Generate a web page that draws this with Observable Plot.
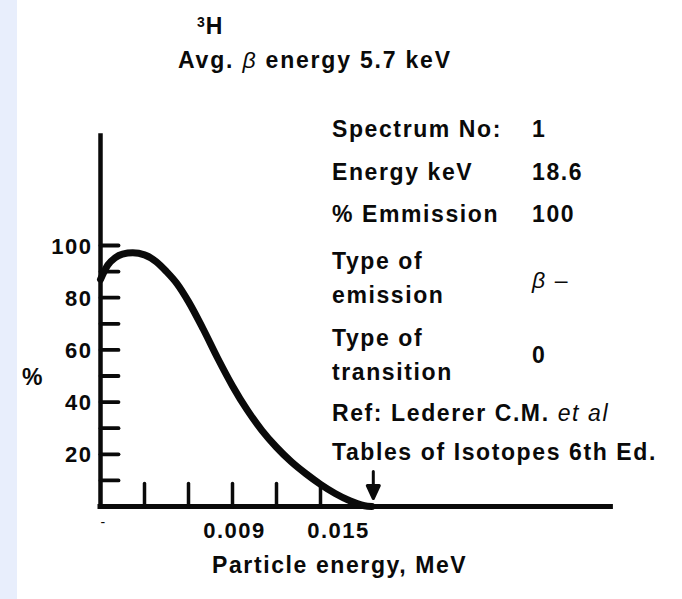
<!DOCTYPE html>
<html><head><meta charset="utf-8">
<script src="https://cdn.jsdelivr.net/npm/d3@7"></script>
<script src="https://cdn.jsdelivr.net/npm/@observablehq/plot@0.6"></script>
<style>
html,body{margin:0;padding:0;}
body{width:682px;height:599px;overflow:hidden;background:linear-gradient(to right,#e8eefc 0,#e8eefc 17px,#fff 17px);}
#wrap{position:relative;width:682px;height:599px;}
#wrap svg{display:block;position:absolute;left:0;top:0;background:transparent;}
.t{position:absolute;font-family:"Liberation Sans",Arial,sans-serif;font-weight:bold;font-size:23px;letter-spacing:1.6px;color:#0a0a0a;line-height:34px;white-space:pre;}
.t i{font-weight:normal;}
</style></head><body><div id="wrap"></div>
<script>
// ---- data ----
const energyMeV = [0, 0.0005, 0.0010, 0.0015, 0.0022, 0.0030, 0.0038, 0.0045, 0.0052, 0.0060, 0.0070, 0.0080, 0.0090, 0.0100, 0.0110, 0.0120, 0.0130, 0.0140, 0.0150, 0.0160, 0.0170, 0.0175, 0.0180, 0.0185];
const percent   = [87,  92.5,   95.3,   96.7,   97.2,   96.4,   93.8,   90,     85.5,   78.5,   68,     56.7,   46.2,   37,     29.2,   22.7,   17.2,   12.6,   8.5,    5,      2.2,    1.1,    0.3,    0];
const yTickValues = [10, 20, 30, 40, 50, 60, 70, 80, 90, 100];
const yLabelValues = [20, 40, 60, 80, 100];
const xTickValues = [0.003, 0.006, 0.009, 0.012, 0.015];
const xLabelValues = [0.009, 0.015];
const endpointMeV = 0.0186;
const axisTopPercent = 142;
const axisEndMeV = 0.0348;
const infoLabels = ["Spectrum No:", "Energy keV", "% Emmission", "Type of\nemission", "Type of\ntransition"];
const infoValues = ["1", "18.6", "100", "β –", "0"];
const titleNuclide = "H";
const titleMass = "3";
const titleText = ["Avg.", "β", "energy 5.7 keV"];
const refLine1 = ["Ref: Lederer C.M.", "et al"];
const refLine2 = "Tables of Isotopes 6th Ed.";
const xTitle = "Particle energy, MeV";
const yTitle = "%";

// ---- layout (pixels) ----
const ink = "#0a0a0a";
const font = "Liberation Sans, Arial, sans-serif";
const rowCenters = [129, 172, 214, 278, 355];
const valueCenters = [129, 172, 214, 280, 355];
const xLabelDx = [2, 18];

const lineShape = {draw(ctx, l) { ctx.moveTo(0, 0); ctx.lineTo(0, -l); }};
const arrowShape = {draw(ctx, l) {
  ctx.moveTo(0, 0); ctx.lineTo(0, -l + 10);
  ctx.moveTo(-6, -l + 13); ctx.lineTo(0, -l); ctx.lineTo(6, -l + 13); ctx.closePath();
}};

const pts = energyMeV.map((e, i) => ({e, p: percent[i]}));
const txt = {fontFamily: font, fontSize: 22, fontWeight: "bold", fill: ink};

const chart = Plot.plot({
  width: 682, height: 599,
  marginTop: 0, marginRight: 0, marginBottom: 0, marginLeft: 0,
  style: {background: "transparent", letterSpacing: "1.5px", fontFamily: font, color: ink},
  x: {type: "linear", domain: [0, 0.036], range: [100, 628], axis: null},
  y: {type: "linear", domain: [0, 100], range: [506, 245], axis: null},
  marks: [
    Plot.ruleX([0], {y1: 0, y2: axisTopPercent, stroke: ink, strokeWidth: 4.5, strokeLinecap: "square"}),
    Plot.ruleY([0], {x1: 0, x2: axisEndMeV, stroke: ink, strokeWidth: 5, strokeLinecap: "square"}),
    Plot.vector(yTickValues, {x: 0, y: d => d, rotate: 90, length: 18, anchor: "start", shape: lineShape, stroke: ink, strokeWidth: 3.8}),
    Plot.vector(xTickValues, {x: d => d, y: 0, rotate: 0, length: 23, anchor: "start", shape: lineShape, stroke: ink, strokeWidth: 3.5}),
    Plot.text(yLabelValues, {x: 0, y: d => d, text: d => String(d), textAnchor: "end", dx: -8, dy: 1, ...txt}),
    ...xLabelValues.map((v, i) => Plot.text([v], {x: d => d, y: 0, text: d => d.toFixed(3), dx: xLabelDx[i], dy: 24, ...txt})),
    Plot.text([0], {x: d => d, y: 0, text: () => "-", dx: 3, dy: 16, fontSize: 14, fill: ink}),
    Plot.line(pts, {x: "e", y: "p", curve: "monotone-x", stroke: ink, strokeWidth: 7, strokeLinecap: "round", strokeLinejoin: "round"}),
    Plot.vector([endpointMeV], {x: d => d, y: 0, rotate: 180, length: 27, anchor: "end", dy: -8, shape: arrowShape, stroke: ink, fill: ink, strokeWidth: 3})
  ]
});
const wrap = document.getElementById("wrap");
wrap.appendChild(chart);

function addText(html, left, centerY, extra) {
  const d = document.createElement("div");
  d.className = "t";
  d.innerHTML = html;
  d.style.left = left + "px";
  d.style.top = (centerY - 17) + "px";
  if (extra) Object.assign(d.style, extra);
  wrap.appendChild(d);
  return d;
}
const esc = s => s.replace(/&/g, "&amp;").replace(/</g, "&lt;");

addText(`<span style="font-size:14px;vertical-align:7px;letter-spacing:1px">${titleMass}</span>${titleNuclide}`, 197, 22);
addText(`${titleText[0]} <i>${titleText[1]}</i> ${titleText[2]}`, 178, 60, {letterSpacing: "1.8px"});
infoLabels.forEach((s, i) => addText(esc(s), 332, rowCenters[i], s.includes("\n") ? {top: (rowCenters[i] - 34) + "px"} : null));
infoValues.forEach((s, i) => {
  const html = s.startsWith("β") ? `<i>β</i><span style="font-weight:normal">${s.slice(1)}</span>` : esc(s);
  addText(html, 532, valueCenters[i]);
});
addText(`${refLine1[0]} <i>${refLine1[1]}</i>`, 332, 413);
addText(esc(refLine2), 332, 452);
addText(esc(xTitle), 212, 565);
addText(esc(yTitle), 22, 377);
</script></body></html>
